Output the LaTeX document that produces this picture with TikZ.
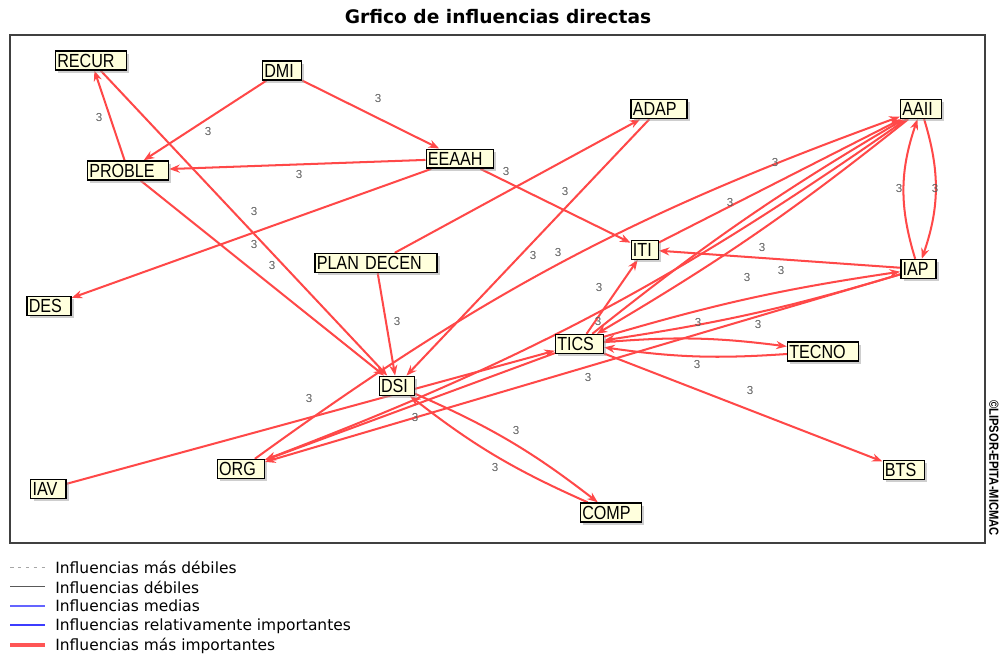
\documentclass[tikz,border=0pt]{standalone}
\usepackage{fontspec}
\setmainfont{Liberation Sans}
\newfontfamily\nodefam[FakeStretch=0.85]{Liberation Sans}
\newfontfamily\dejafam{DejaVu Sans}
\usetikzlibrary{arrows.meta,shadows,backgrounds}
\definecolor{nodefill}{RGB}{255,255,221}
\definecolor{infred}{RGB}{255,72,72}
\definecolor{medblue}{RGB}{100,100,255}
\definecolor{relblue}{RGB}{60,60,255}
\definecolor{legred}{RGB}{255,85,85}
\tikzset{
  nd/.style={draw=black, line width=0.8pt, fill=nodefill, inner xsep=1pt, inner ysep=0pt,
    minimum height=0.38cm, text height=7.7pt, text depth=0pt, align=left,
    font=\nodefam\fontsize{10.8}{11}\selectfont,
    drop shadow={shadow xshift=0.055cm, shadow yshift=-0.055cm, fill=black!38}},
  infl/.style={draw=infred, line width=1.15pt, -{Stealth[length=6pt,width=4.6pt]}},
  lab/.style={font=\fontsize{6.6}{7}\selectfont, text=black!65, inner sep=0pt},
  legtext/.style={anchor=west, inner sep=0pt, font=\dejafam\fontsize{8.8}{10}\selectfont},
}
\begin{document}
\begin{tikzpicture}[x=0.02cm, y=-0.02cm]
\useasboundingbox (0,0) rectangle (1000,656);
% title and frame
\node[font=\dejafam\bfseries\fontsize{10.6}{12}\selectfont, inner sep=0pt] (title) at (498,17) {Grfico de influencias directas};
\draw[black!75, line width=0.8pt] (10,35) rectangle (985,543);
\node[rotate=-90, inner sep=0pt, font=\nodefam\bfseries\fontsize{7.5}{9}\selectfont] (copy) at (994,468) {©LIPSOR-EPITA-MICMAC};
% nodes
\node[nd, text width=1.35cm] (RECUR) at (91,60.3) {RECUR};
\node[nd, text width=0.71cm] (DMI) at (282,70.5) {DMI};
\node[nd, text width=1.55cm] (PROBLE) at (128,170.5) {PROBLE};
\node[nd, text width=1.27cm] (EEAAH) at (459.7,158.7) {EEAAH};
\node[nd, text width=2.37cm] (PLAN) at (376,263) {PLAN DECEN};
\node[nd, text width=0.81cm] (DES) at (49,306) {DES};
\node[nd, text width=1.05cm] (ADAP) at (659,109) {ADAP};
\node[nd, text width=0.75cm] (AAII) at (921,109) {AAII};
\node[nd, text width=0.47cm] (ITI) at (644.7,249.7) {ITI};
\node[nd, text width=0.63cm] (IAP) at (918.3,269) {IAP};
\node[nd, text width=0.89cm] (TICS) at (579.5,344) {TICS};
\node[nd, text width=1.35cm] (TECNO) at (823,351.3) {TECNO};
\node[nd, text width=0.75cm] (BTS) at (903.7,469.7) {BTS};
\node[nd, text width=1.15cm] (COMP) at (611,512.5) {COMP};
\node[nd, text width=0.63cm] (DSI) at (396.8,385.8) {DSI};
\node[nd, text width=0.87cm] (ORG) at (240.8,469) {ORG};
\node[nd, text width=0.63cm] (IAV) at (48.3,488.8) {IAV};
% connectors
\begin{scope}[on background layer]
\draw[infl] (PROBLE) -- (RECUR);
\draw[infl] (DMI) -- (PROBLE);
\draw[infl] (DMI) -- (EEAAH);
\draw[infl] (EEAAH) -- (PROBLE);
\draw[infl] (EEAAH) -- (DES);
\draw[infl] (RECUR) -- (DSI);
\draw[infl] (PROBLE) -- (DSI);
\draw[infl] (PLAN) -- (DSI);
\draw[infl] (PLAN) -- (ADAP);
\draw[infl] (EEAAH) -- (ITI);
\draw[infl] (ADAP) -- (DSI);
\draw[infl] (AAII) to[bend left=18] (IAP);
\draw[infl] (IAP) to[bend left=18] (AAII);
\draw[infl] (IAP) -- (ITI);
\draw[infl] (TICS) to[bend left=6] (TECNO);
\draw[infl] (TECNO) to[bend left=6] (TICS);
\draw[infl] (TICS) -- (BTS);
\draw[infl] (TICS) -- (ITI);
\draw[infl] (DSI) to[bend left=7] (COMP);
\draw[infl] (COMP) to[bend left=7] (DSI);
\draw[infl] (IAV) -- (TICS);
\draw[infl] (TICS) -- (ORG);
\draw[infl] (IAP) -- (ORG);
\draw[infl] (ITI) -- (AAII);
\draw[infl] (AAII) to[bend left=4] (TICS);
\draw[infl] (TICS) to[bend left=4] (AAII);
\draw[infl] (IAP) to[bend left=4] (TICS);
\draw[infl] (TICS) to[bend left=4] (IAP);
\draw[infl] (ORG) to[bend left=8] (AAII);
\draw[infl] (AAII) to[bend left=7] (ORG);
\end{scope}
% labels
\foreach \p [count=\i] in {(99,118),(208,132),(378,99),(299,175),(254,212),(254,245),(272,266),(397,322),(506,172),(565,192),(533,256),(558,253),(775,163),(730,203),(899,189),(935,189),(762,248),(747,278),(781,271),(599,288),(598,322),(698,323),(758,325),(697,365),(588,378),(750,390),(309,399),(415,417),(516,430),(495,467)}
  \node[lab] (lab\i) at \p {3};
% legend
\draw[black!35, line width=0.5pt, dash pattern=on 2pt off 2.5pt] (10,567.3) coordinate (la1) -- (45,567.3) coordinate (lb1);
\draw[black!65, line width=0.6pt] (10,586.7) coordinate (la2) -- (45,586.7) coordinate (lb2);
\draw[medblue, line width=0.6pt] (10,606) coordinate (la3) -- (45,606) coordinate (lb3);
\draw[relblue, line width=1.3pt] (10,625.3) coordinate (la4) -- (45,625.3) coordinate (lb4);
\draw[legred, line width=1.8pt] (10,645) coordinate (la5) -- (45,645) coordinate (lb5);
\node[legtext] (t1) at (55,567) {Influencias más débiles};
\node[legtext] (t2) at (55,587) {Influencias débiles};
\node[legtext] (t3) at (55,606) {Influencias medias};
\node[legtext] (t4) at (55,626) {Influencias relativamente importantes};
\node[legtext] (t5) at (55,645.5) {Influencias más importantes};
\end{tikzpicture}
\end{document}
